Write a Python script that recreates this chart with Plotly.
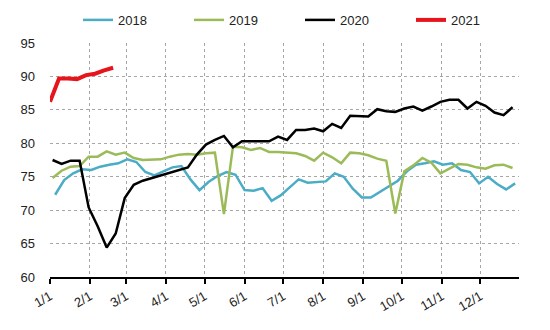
import pandas as pd
import plotly.graph_objects as go

# Weekly values
v2018 = [72.3, 74.5, 75.5, 76.1, 76.0, 76.5, 76.8, 77.0, 77.6, 77.2,
         75.7, 75.2, 75.8, 76.4, 76.6, 74.6, 73.0, 74.2, 75.1, 75.7,
         75.3, 73.0, 72.9, 73.3, 71.4, 72.2, 73.4, 74.6, 74.1, 74.2,
         74.3, 75.5, 75.0, 73.2, 71.9, 71.9, 72.7, 73.5, 74.4, 75.8,
         76.8, 77.0, 77.3, 76.8, 77.0, 76.0, 75.7, 74.0, 75.0, 73.9,
         73.1, 74.0]
v2019 = [74.8, 75.9, 76.5, 76.6, 78.0, 78.0, 78.8, 78.3, 78.6, 77.8,
         77.5, 77.6, 77.6, 78.0, 78.3, 78.4, 78.3, 78.5, 78.6, 69.4,
         79.5, 79.4, 79.0, 79.3, 78.7, 78.7, 78.6, 78.5, 78.1, 77.4,
         78.6, 77.9, 77.0, 78.6, 78.5, 78.2, 77.7, 77.4, 69.5, 75.8,
         76.7, 77.8, 77.1, 75.5, 76.2, 76.9, 76.8, 76.4, 76.2, 76.7,
         76.8, 76.3]
v2020 = [77.5, 76.9, 77.4, 77.4, 70.4, 67.6, 64.4, 66.5, 71.8, 73.8,
         74.4, 74.8, 75.2, 75.6, 75.9, 76.4, 78.3, 79.8, 80.5, 81.1,
         79.4, 80.3, 80.3, 80.3, 80.3, 81.0, 80.5, 82.0, 82.0, 82.2,
         81.8, 82.9, 82.3, 84.1, 84.1, 84.0, 85.1, 84.8, 84.7, 85.2,
         85.5, 84.9, 85.5, 86.2, 86.5, 86.5, 85.2, 86.2, 85.6, 84.6,
         84.2, 85.4]
v2021 = [86.2, 89.7, 89.7, 89.6, 90.2, 90.4, 90.9, 91.3]

series_names = ["2018", "2019", "2020", "2021"]
series_values = [v2018, v2019, v2020, v2021]
series_start = ["2019-01-05", "2019-01-03", "2019-01-03", "2019-01-01"]
series_colors = ["#4BACC6", "#9BBB59", "#000000", "#E8141C"]
series_widths = [2.5, 2.5, 2.5, 4]

month_ticks = ["2019-%02d-01" % m for m in range(1, 13)]
month_labels = ["%d/1" % m for m in range(1, 13)]
y_ticks = [60, 65, 70, 75, 80, 85, 90, 95]

FONT = "Liberation Sans, Arial, sans-serif"

fig = go.Figure()
for name, vals, start, col, w in zip(series_names, series_values, series_start,
                                     series_colors, series_widths):
    dates = pd.date_range(start, periods=len(vals), freq="7D")
    fig.add_trace(go.Scatter(x=dates, y=vals, mode="lines", name=name,
                             line=dict(color=col, width=w)))

fig.update_layout(
    width=550, height=330,
    margin=dict(l=50, r=31, t=43, b=53, autoexpand=False),
    paper_bgcolor="white", plot_bgcolor="white",
    font=dict(family=FONT, size=13, color="#222"),
    legend=dict(orientation="h", x=0.533, xanchor="center", xref="paper",
                y=0.985, yanchor="top", yref="container",
                font=dict(size=13, color="#222"),
                entrywidth=66, entrywidthmode="pixels",
                itemwidth=30),
    showlegend=True,
)
fig.update_xaxes(
    type="date", range=["2019-01-01", "2019-12-31"],
    tickvals=month_ticks, ticktext=month_labels, tickangle=-30,
    showgrid=True, gridcolor="#A6A6A6", griddash="3px,3px", gridwidth=1,
    showline=True, linecolor="black", linewidth=2,
    ticks="outside", ticklen=5, tickcolor="black", tickwidth=1.5,
    tickfont=dict(size=13, color="#222"),
    zeroline=False,
)
fig.update_yaxes(
    range=[60, 95], tickvals=y_ticks,
    showgrid=True, gridcolor="#A6A6A6", griddash="3px,3px", gridwidth=1,
    showline=False, zeroline=False, ticks="", ticklabelstandoff=14,
    tickfont=dict(size=13, color="#222"),
)

fig.write_html("out.html")
